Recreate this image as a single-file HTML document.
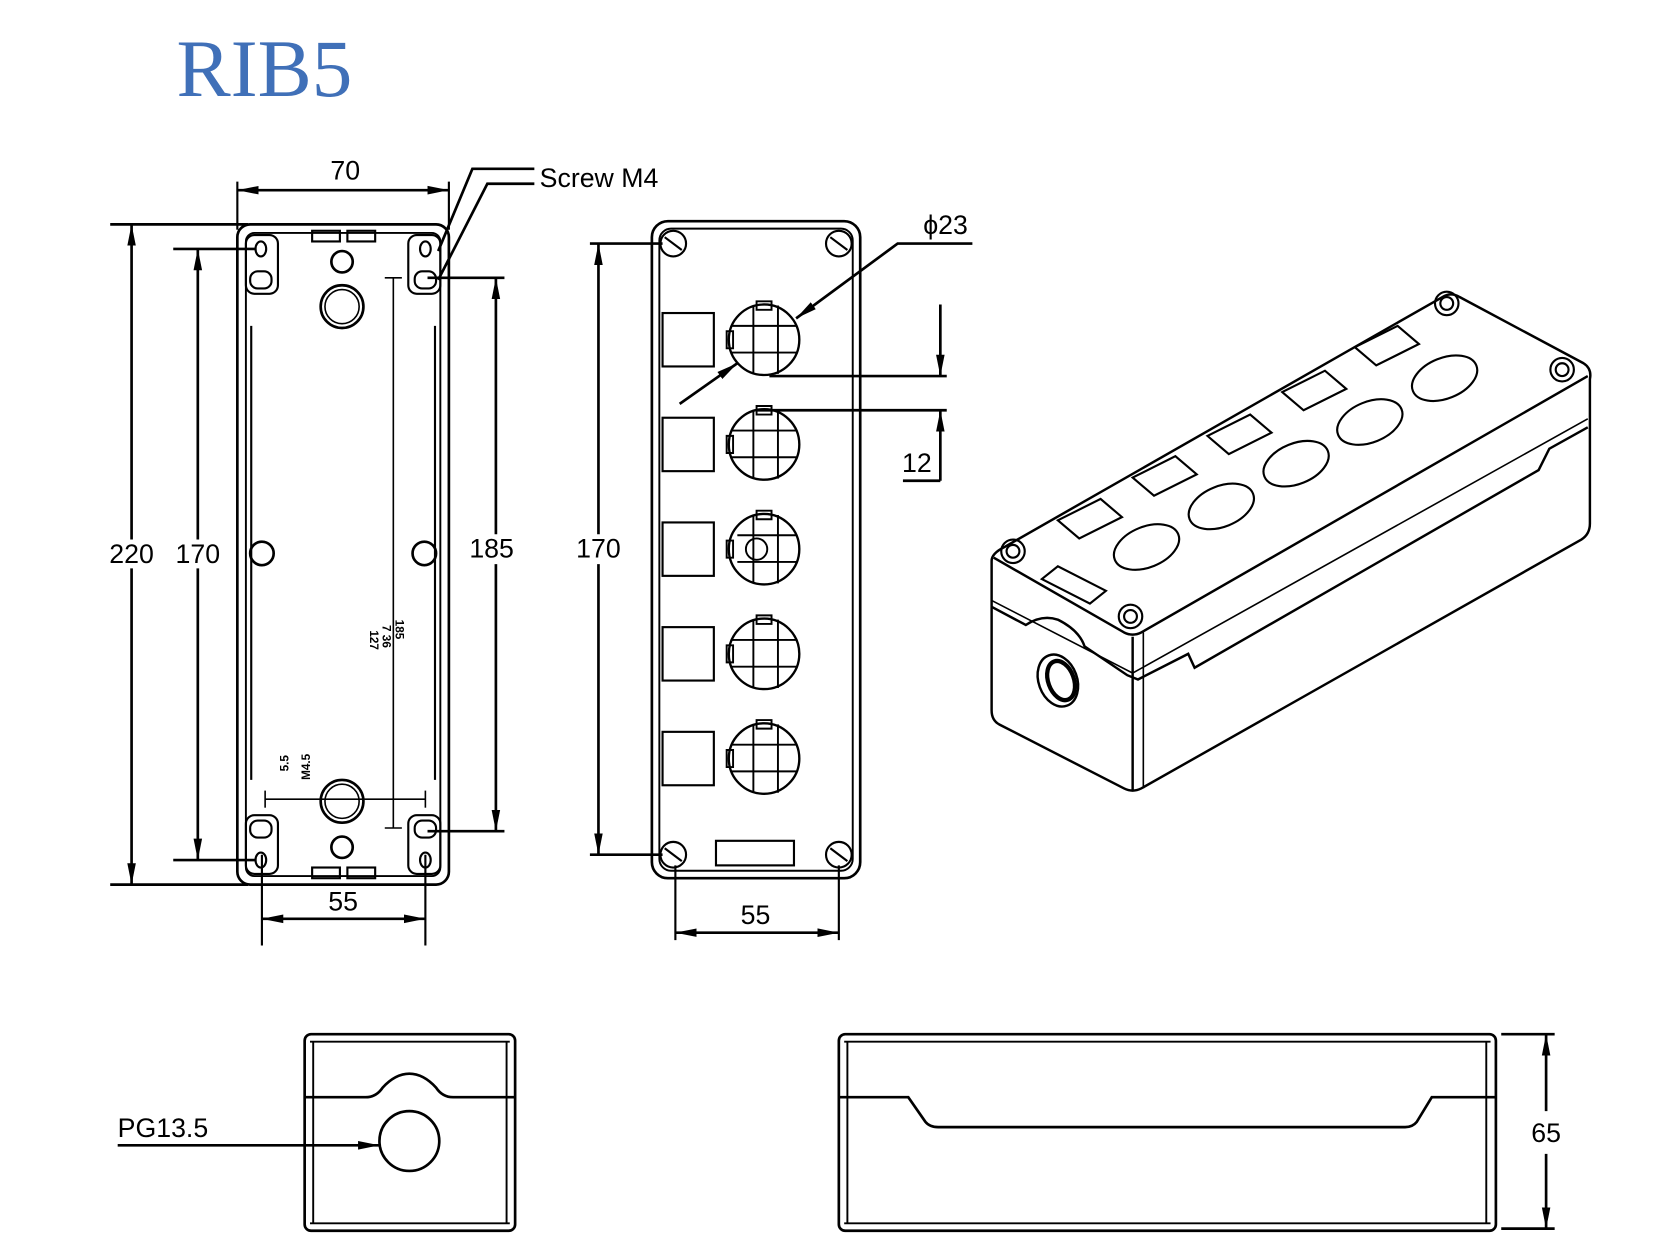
<!DOCTYPE html>
<html><head><meta charset="utf-8"><style>
html,body{margin:0;padding:0;background:#fff}
svg{display:block}
text{font-family:"Liberation Sans",sans-serif;fill:#000}
</style></head><body>
<svg width="1667" height="1250" viewBox="0 0 1560 1170" xmlns="http://www.w3.org/2000/svg">
<defs>
<marker id="a" viewBox="0 0 20 10" refX="20" refY="5" markerWidth="20" markerHeight="10" markerUnits="userSpaceOnUse" orient="auto-start-reverse"><path d="M0,1 L20,5 L0,9 z" fill="#000"/></marker>
</defs>
<text x="165" y="90" style="font-family:'Liberation Serif',serif;font-size:76px;fill:#4070b8">RIB5</text>

<g fill="none" stroke="#000" stroke-width="2.5">
<!-- LEFT VIEW -->
<rect x="222" y="210" width="198" height="618" rx="12"/>
<rect x="230" y="218" width="182" height="602" rx="8" stroke-width="1.8"/>
<line x1="235" y1="305" x2="235" y2="730" stroke-width="2"/>
<line x1="407" y1="305" x2="407" y2="730" stroke-width="2"/>
<g stroke-width="2">
<rect x="230" y="220" width="30" height="55" rx="8"/><rect x="382" y="220" width="30" height="55" rx="8"/>
<rect x="230" y="763" width="30" height="55" rx="8"/><rect x="382" y="763" width="30" height="55" rx="8"/>
<ellipse cx="244" cy="233" rx="5" ry="7"/><rect x="234" y="254" width="20" height="16" rx="7"/>
<ellipse cx="398" cy="233" rx="5" ry="7"/><rect x="388" y="254" width="20" height="16" rx="7"/>
<ellipse cx="244" cy="805" rx="5" ry="7"/><rect x="234" y="768" width="20" height="16" rx="7"/>
<ellipse cx="398" cy="805" rx="5" ry="7"/><rect x="388" y="768" width="20" height="16" rx="7"/>
<rect x="292" y="216" width="26" height="10"/><rect x="325" y="216" width="26" height="10"/>
<rect x="292" y="812" width="26" height="10"/><rect x="325" y="812" width="26" height="10"/>
</g>
<circle cx="320" cy="245" r="10"/><circle cx="320" cy="287" r="20"/><circle cx="320" cy="287" r="16" stroke-width="1.5"/>
<circle cx="245" cy="518" r="11"/><circle cx="397" cy="518" r="11"/>
<circle cx="320" cy="750" r="20"/><circle cx="320" cy="750" r="16" stroke-width="1.5"/><circle cx="320" cy="793" r="10"/>
<g stroke-width="1.5"><line x1="368" y1="260" x2="368" y2="775"/><line x1="360" y1="260" x2="376" y2="260"/><line x1="360" y1="775" x2="376" y2="775"/>
<line x1="248" y1="748" x2="398" y2="748"/><line x1="248" y1="740" x2="248" y2="756"/><line x1="398" y1="740" x2="398" y2="756"/></g>
<!-- dims left -->
<line x1="222" y1="170" x2="222" y2="215" stroke-width="2"/><line x1="420" y1="170" x2="420" y2="215" stroke-width="2"/>
<line x1="222" y1="178" x2="420" y2="178" marker-start="url(#a)" marker-end="url(#a)"/>
<line x1="103" y1="210" x2="232" y2="210"/><line x1="103" y1="828" x2="232" y2="828"/>
<line x1="123" y1="210" x2="123" y2="505" marker-start="url(#a)"/><line x1="123" y1="532" x2="123" y2="828" marker-end="url(#a)"/>
<line x1="162" y1="233" x2="240" y2="233"/><line x1="162" y1="805" x2="240" y2="805"/>
<line x1="185" y1="233" x2="185" y2="505" marker-start="url(#a)"/><line x1="185" y1="532" x2="185" y2="805" marker-end="url(#a)"/>
<line x1="400" y1="260" x2="472" y2="260"/><line x1="400" y1="778" x2="472" y2="778"/>
<line x1="464" y1="260" x2="464" y2="500" marker-start="url(#a)"/><line x1="464" y1="528" x2="464" y2="778" marker-end="url(#a)"/>
<line x1="245" y1="800" x2="245" y2="885" stroke-width="2"/><line x1="398" y1="800" x2="398" y2="885" stroke-width="2"/>
<line x1="245" y1="860" x2="398" y2="860" marker-start="url(#a)" marker-end="url(#a)"/>
<polyline points="500,158 442,158 410,235"/><polyline points="500,172 456,172 410,262"/>

<!-- MIDDLE VIEW -->
<rect x="610" y="207" width="195" height="615" rx="15"/>
<rect x="617" y="214" width="181" height="601" rx="11" stroke-width="1.8"/>
<g stroke-width="2">
<circle cx="630" cy="228" r="12"/><circle cx="785" cy="228" r="12"/><circle cx="630" cy="800" r="12"/><circle cx="785" cy="800" r="12"/>
<line x1="622" y1="222" x2="638" y2="234"/><line x1="777" y1="222" x2="793" y2="234"/><line x1="622" y1="794" x2="638" y2="806"/><line x1="777" y1="794" x2="793" y2="806"/>
<rect x="620" y="293" width="48" height="50"/><rect x="620" y="391" width="48" height="50"/><rect x="620" y="489" width="48" height="50"/><rect x="620" y="587" width="48" height="50"/><rect x="620" y="685" width="48" height="50"/>
<rect x="670" y="787" width="73" height="23"/>
</g>
<g stroke-width="2.2">
<circle cx="715" cy="318" r="33"/><circle cx="715" cy="416" r="33"/><circle cx="715" cy="514" r="33"/><circle cx="715" cy="612" r="33"/><circle cx="715" cy="710" r="33"/>
</g>
<g stroke-width="1.8">
<path d="M685,305 H745 M685,330 H745 M705,286 V350 M728,286 V350 M708,282 h14 v8 h-14z"/>
<path d="M685,403 H745 M685,428 H745 M705,384 V448 M728,384 V448 M708,380 h14 v8 h-14z"/>
<path d="M690,501 H745 M690,526 H745 M705,482 V546 M728,482 V546 M708,478 h14 v8 h-14z"/><circle cx="708" cy="514" r="10"/>
<path d="M685,599 H745 M685,624 H745 M705,580 V644 M728,580 V644 M708,576 h14 v8 h-14z"/>
<path d="M685,697 H745 M685,722 H745 M705,678 V742 M728,678 V742 M708,674 h14 v8 h-14z"/>
<path d="M680,310 h6 v16 h-6z M680,408 h6 v16 h-6z M680,506 h6 v16 h-6z M680,604 h6 v16 h-6z M680,702 h6 v16 h-6z"/>
</g>
<!-- dims middle -->
<line x1="552" y1="228" x2="620" y2="228"/><line x1="552" y1="800" x2="620" y2="800"/>
<line x1="560" y1="228" x2="560" y2="500" marker-start="url(#a)"/><line x1="560" y1="528" x2="560" y2="800" marker-end="url(#a)"/>
<line x1="632" y1="810" x2="632" y2="880" stroke-width="2"/><line x1="785" y1="810" x2="785" y2="880" stroke-width="2"/>
<line x1="632" y1="873" x2="785" y2="873" marker-start="url(#a)" marker-end="url(#a)"/>
<polyline points="910,228 840,228 745,298" marker-end="url(#a)"/>
<line x1="636" y1="378" x2="690" y2="340" marker-end="url(#a)"/>
<line x1="720" y1="352" x2="886" y2="352"/><line x1="708" y1="384" x2="886" y2="384"/>
<line x1="880" y1="285" x2="880" y2="352" marker-end="url(#a)"/>
<line x1="880" y1="450" x2="880" y2="384" marker-end="url(#a)"/>
<line x1="845" y1="450" x2="880" y2="450"/>

<!-- ISOMETRIC -->
<g stroke-width="2.3">
<path d="M940,512 L1350,278 Q1358,273 1366,278 L1482,340 Q1490,345 1488,355 L1488,490 Q1488,500 1480,505 L1068,738 Q1060,742 1052,738 L935,678 Q928,674 928,665 L928,525 Q928,518 940,512 Z"/>
<path d="M930,522 L1052,592 Q1060,596 1068,592 L1486,352"/>
<line x1="1060" y1="596" x2="1060" y2="740"/><line x1="1070" y1="592" x2="1070" y2="738" stroke-width="1.5"/>
<path d="M928,568 L960,585 Q975,575 990,580 Q1010,590 1015,605 L1055,632 L1065,636 L1112,612 L1118,625 L1440,440 L1450,420 L1486,400" />
<path d="M928,562 L1060,630 L1486,392" stroke-width="1.5"/>
<ellipse cx="990" cy="637" rx="18" ry="25" transform="rotate(-20 990 637)"/>
<ellipse cx="993" cy="637" rx="12" ry="19" transform="rotate(-20 993 637)" stroke-width="4"/>
</g>
<g stroke-width="2">
<ellipse cx="1073" cy="512" rx="32" ry="19" transform="rotate(-22 1073 512)"/>
<ellipse cx="1143" cy="474" rx="32" ry="19" transform="rotate(-22 1143 474)"/>
<ellipse cx="1213" cy="434" rx="32" ry="19" transform="rotate(-22 1213 434)"/>
<ellipse cx="1282" cy="395" rx="32" ry="19" transform="rotate(-22 1282 395)"/>
<ellipse cx="1352" cy="354" rx="32" ry="19" transform="rotate(-22 1352 354)"/>
<polygon points="990,487 1030,467 1050,484 1010,504"/>
<polygon points="1060,447 1100,427 1120,444 1080,464"/>
<polygon points="1130,408 1170,388 1190,405 1150,425"/>
<polygon points="1200,367 1240,347 1260,364 1220,384"/>
<polygon points="1268,325 1308,305 1328,322 1288,342"/>
<polygon points="975,542 990,530 1035,553 1020,565"/>
<circle cx="948" cy="516" r="11"/><circle cx="948" cy="516" r="6"/>
<circle cx="1058" cy="577" r="11"/><circle cx="1058" cy="577" r="6"/>
<circle cx="1354" cy="284" r="11"/><circle cx="1354" cy="284" r="6"/>
<circle cx="1462" cy="346" r="11"/><circle cx="1462" cy="346" r="6"/>
</g>

<!-- BOTTOM LEFT -->
<rect x="285" y="968" width="197" height="184" rx="6"/>
<line x1="290" y1="975" x2="477" y2="975" stroke-width="1.8"/><line x1="290" y1="1145" x2="477" y2="1145" stroke-width="1.8"/>
<line x1="293" y1="975" x2="293" y2="1145" stroke-width="1.8"/><line x1="474" y1="975" x2="474" y2="1145" stroke-width="1.8"/>
<path d="M285,1027 L342,1027 Q352,1027 358,1018 Q370,1005 383,1005 Q396,1005 408,1018 Q414,1027 424,1027 L482,1027"/>
<circle cx="383" cy="1068" r="28"/>
<line x1="110" y1="1072" x2="355" y2="1072" marker-end="url(#a)"/>

<!-- BOTTOM RIGHT -->
<rect x="785" y="968" width="615" height="184" rx="6"/>
<line x1="790" y1="975" x2="1395" y2="975" stroke-width="1.8"/><line x1="790" y1="1145" x2="1395" y2="1145" stroke-width="1.8"/>
<line x1="793" y1="975" x2="793" y2="1145" stroke-width="1.8"/><line x1="1391" y1="975" x2="1391" y2="1145" stroke-width="1.8"/>
<path d="M785,1027 L850,1027 L866,1050 Q870,1055 878,1055 L1315,1055 Q1322,1055 1326,1050 L1340,1027 L1400,1027"/>
<line x1="1405" y1="968" x2="1455" y2="968"/><line x1="1405" y1="1150" x2="1455" y2="1150"/>
<line x1="1447" y1="968" x2="1447" y2="1040" marker-start="url(#a)"/><line x1="1447" y1="1080" x2="1447" y2="1150" marker-end="url(#a)"/>
</g>

<g font-size="25">
<text x="323" y="168" text-anchor="middle">70</text>
<text x="505" y="175">Screw M4</text>
<text x="123" y="527" text-anchor="middle">220</text>
<text x="185" y="527" text-anchor="middle">170</text>
<text x="460" y="522" text-anchor="middle">185</text>
<text x="321" y="852" text-anchor="middle">55</text>
<text x="560" y="522" text-anchor="middle">170</text>
<text x="707" y="865" text-anchor="middle">55</text>
<text x="864" y="219">ϕ23</text>
<text x="858" y="442" text-anchor="middle">12</text>
<text x="110" y="1064">PG13.5</text>
<text x="1447" y="1069" text-anchor="middle">65</text>
</g>
<g font-size="11" font-weight="bold">
<text transform="translate(370,580) rotate(90)">185</text>
<text transform="translate(358,585) rotate(90)">7 36</text>
<text transform="translate(346,590) rotate(90)">127</text>
<text transform="translate(290,730) rotate(-90)">M4.5</text>
<text transform="translate(270,722) rotate(-90)">5.5</text>
</g>
</svg>
</body></html>
